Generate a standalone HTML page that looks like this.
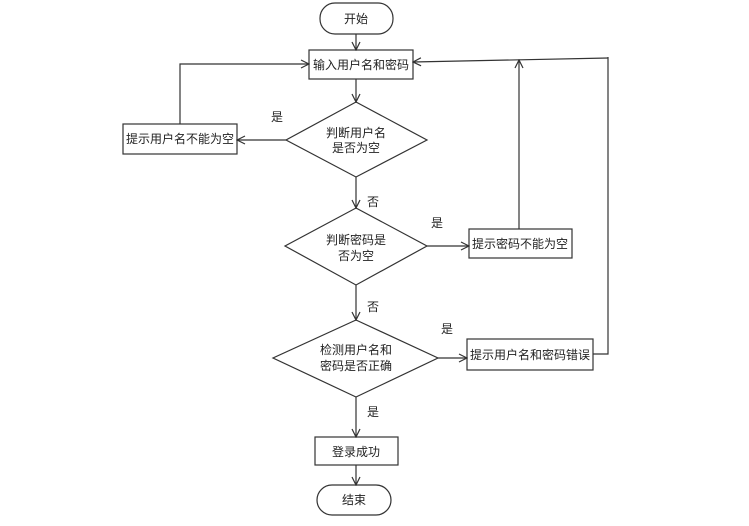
<!DOCTYPE html>
<html><head><meta charset="utf-8"><style>
body{margin:0;background:#fff;}
svg text{font-family:"Liberation Sans","Noto Sans CJK SC",sans-serif;font-size:12px;fill:#222;}
</style></head><body>
<svg width="749" height="521" viewBox="0 0 749 521" xmlns="http://www.w3.org/2000/svg">
<defs><marker id="a" markerWidth="10" markerHeight="10" refX="9" refY="5" orient="auto" markerUnits="userSpaceOnUse"><path d="M1,1 L9,5 L1,9" fill="none" stroke="#333" stroke-width="1.2"/></marker></defs>
<g fill="#fff" stroke="#333" stroke-width="1.2">
<rect x="320" y="3" width="73" height="31" rx="15"/>
<rect x="309" y="50" width="104" height="29"/>
<polygon points="356,102 427,140 356,177 286,140"/>
<rect x="123" y="124" width="114" height="30"/>
<polygon points="356,208 427,246 356,285 285,246"/>
<rect x="469" y="229" width="103" height="29"/>
<polygon points="356,320 438,358 356,397 273,358"/>
<rect x="467" y="339" width="126" height="31"/>
<rect x="315" y="437" width="83" height="28"/>
<rect x="317" y="485" width="74" height="30" rx="15"/>
</g>
<g stroke="#333" stroke-width="1.2" fill="none">
<line x1="356" y1="34" x2="356" y2="50" marker-end="url(#a)"/>
<line x1="356" y1="79" x2="356" y2="102" marker-end="url(#a)"/>
<line x1="286" y1="140" x2="237" y2="140" marker-end="url(#a)"/>
<polyline points="180,124 180,64 309,64" marker-end="url(#a)"/>
<line x1="356" y1="177" x2="356" y2="208" marker-end="url(#a)"/>
<line x1="427" y1="246" x2="469" y2="246" marker-end="url(#a)"/>
<line x1="519" y1="229" x2="519" y2="60" marker-end="url(#a)"/>
<line x1="356" y1="285" x2="356" y2="320" marker-end="url(#a)"/>
<line x1="438" y1="358" x2="467" y2="358" marker-end="url(#a)"/>
<polyline points="593,354 608,354 608,57"/>
<line x1="608" y1="58" x2="413" y2="62" marker-end="url(#a)"/>
<line x1="356" y1="397" x2="356" y2="437" marker-end="url(#a)"/>
<line x1="356" y1="465" x2="356" y2="485" marker-end="url(#a)"/>
</g>
<g text-anchor="middle">
<text x="356" y="23">开始</text>
<text x="361" y="69">输入用户名和密码</text>
<text x="356" y="137">判断用户名</text>
<text x="356" y="152">是否为空</text>
<text x="180" y="143">提示用户名不能为空</text>
<text x="356" y="244">判断密码是</text>
<text x="356" y="260">否为空</text>
<text x="520" y="248">提示密码不能为空</text>
<text x="356" y="354">检测用户名和</text>
<text x="356" y="370">密码是否正确</text>
<text x="530" y="359">提示用户名和密码错误</text>
<text x="356" y="456">登录成功</text>
<text x="354" y="504">结束</text>
<text x="277" y="121">是</text>
<text x="373" y="206">否</text>
<text x="437" y="227">是</text>
<text x="373" y="311">否</text>
<text x="447" y="333">是</text>
<text x="373" y="416">是</text>
</g>
</svg>
</body></html>
